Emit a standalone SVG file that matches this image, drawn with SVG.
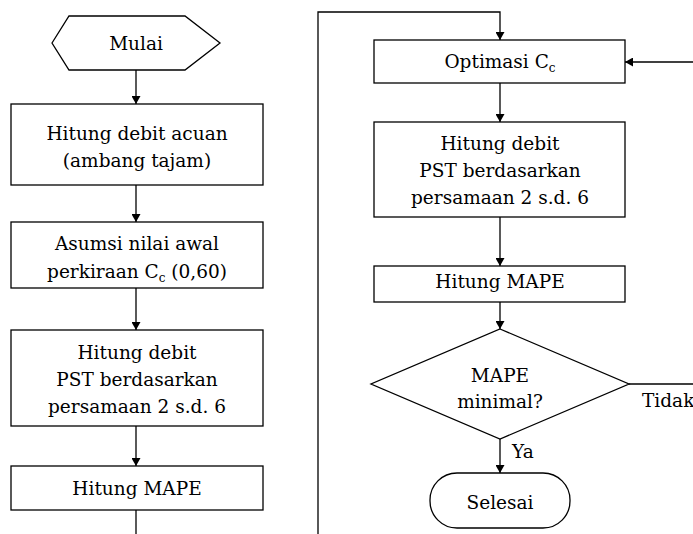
<svg xmlns="http://www.w3.org/2000/svg" width="693" height="534" viewBox="0 0 693 534">
<defs>
<marker id="arr" markerWidth="8" markerHeight="9" refX="8" refY="4.5" orient="auto" markerUnits="userSpaceOnUse">
<path d="M0,0 L8,4.5 L0,9 Z" fill="#000"/>
</marker>
<style>
.s{fill:#fff;stroke:#000;stroke-width:1.3}
.t{font-family:"DejaVu Serif","Liberation Serif",serif;font-size:18.5px;fill:#000;text-anchor:middle}
.l{font-family:"DejaVu Serif","Liberation Serif",serif;font-size:18.5px;fill:#000}
.sub{font-size:12px}
.c{fill:none;stroke:#000;stroke-width:1.3}
</style>
</defs>
<rect width="693" height="534" fill="#fff"/>
<g id="connectors">
<line class="c" x1="136" y1="70" x2="136" y2="104" marker-end="url(#arr)"/>
<line class="c" x1="136" y1="185" x2="136" y2="222" marker-end="url(#arr)"/>
<line class="c" x1="136" y1="288" x2="136" y2="330" marker-end="url(#arr)"/>
<line class="c" x1="136" y1="426" x2="136" y2="466" marker-end="url(#arr)"/>
<line class="c" x1="136" y1="510" x2="136" y2="534"/>
<polyline class="c" points="318,534 318,12 500,12 500,40" marker-end="url(#arr)"/>
<line class="c" x1="500" y1="83" x2="500" y2="122" marker-end="url(#arr)"/>
<line class="c" x1="500" y1="217" x2="500" y2="266" marker-end="url(#arr)"/>
<line class="c" x1="500" y1="302" x2="500" y2="329" marker-end="url(#arr)"/>
<line class="c" x1="500" y1="439" x2="500" y2="473" marker-end="url(#arr)"/>
<line class="c" x1="629" y1="384" x2="693" y2="384"/>
<line class="c" x1="693" y1="62" x2="625" y2="62" marker-end="url(#arr)"/>
<text class="l" x="512" y="458">Ya</text>
<text class="l" x="642" y="407">Tidak</text>
</g>
<g id="mulai">
<polygon class="s" points="52,43 69,16 185,16 220,43 185,70 69,70"/>
<text class="t" x="136" y="50">Mulai</text>
</g>
<g id="debit-acuan">
<rect class="s" x="11" y="104" width="252" height="81"/>
<text class="t" x="137" y="140">Hitung debit acuan</text>
<text class="t" x="137" y="167">(ambang tajam)</text>
</g>
<g id="asumsi">
<rect class="s" x="11" y="222" width="252" height="66"/>
<text class="t" x="137" y="250">Asumsi nilai awal</text>
<text class="t" x="137" y="278">perkiraan C<tspan class="sub" dy="4">c</tspan><tspan dy="-4"> (0,60)</tspan></text>
</g>
<g id="debit-pst-1">
<rect class="s" x="11" y="330" width="252" height="96"/>
<text class="t" x="137" y="359">Hitung debit</text>
<text class="t" x="137" y="386">PST berdasarkan</text>
<text class="t" x="137" y="413">persamaan 2 s.d. 6</text>
</g>
<g id="mape-1">
<rect class="s" x="11" y="466" width="252" height="44"/>
<text class="t" x="137" y="495">Hitung MAPE</text>
</g>
<g id="optimasi">
<rect class="s" x="374" y="40" width="251" height="43"/>
<text class="t" x="500" y="68">Optimasi C<tspan class="sub" dy="4">c</tspan></text>
</g>
<g id="debit-pst-2">
<rect class="s" x="374" y="122" width="251" height="95"/>
<text class="t" x="500" y="150">Hitung debit</text>
<text class="t" x="500" y="177">PST berdasarkan</text>
<text class="t" x="500" y="204">persamaan 2 s.d. 6</text>
</g>
<g id="mape-2">
<rect class="s" x="374" y="266" width="251" height="36"/>
<text class="t" x="500" y="288">Hitung MAPE</text>
</g>
<g id="decision">
<polygon class="s" points="500,329 629,384 500,439 371,384"/>
<text class="t" x="500" y="382">MAPE</text>
<text class="t" x="500" y="408">minimal?</text>
</g>
<g id="selesai">
<rect class="s" x="430" y="473" width="140" height="55" rx="27" ry="27"/>
<text class="t" x="500" y="509">Selesai</text>
</g>
</svg>
